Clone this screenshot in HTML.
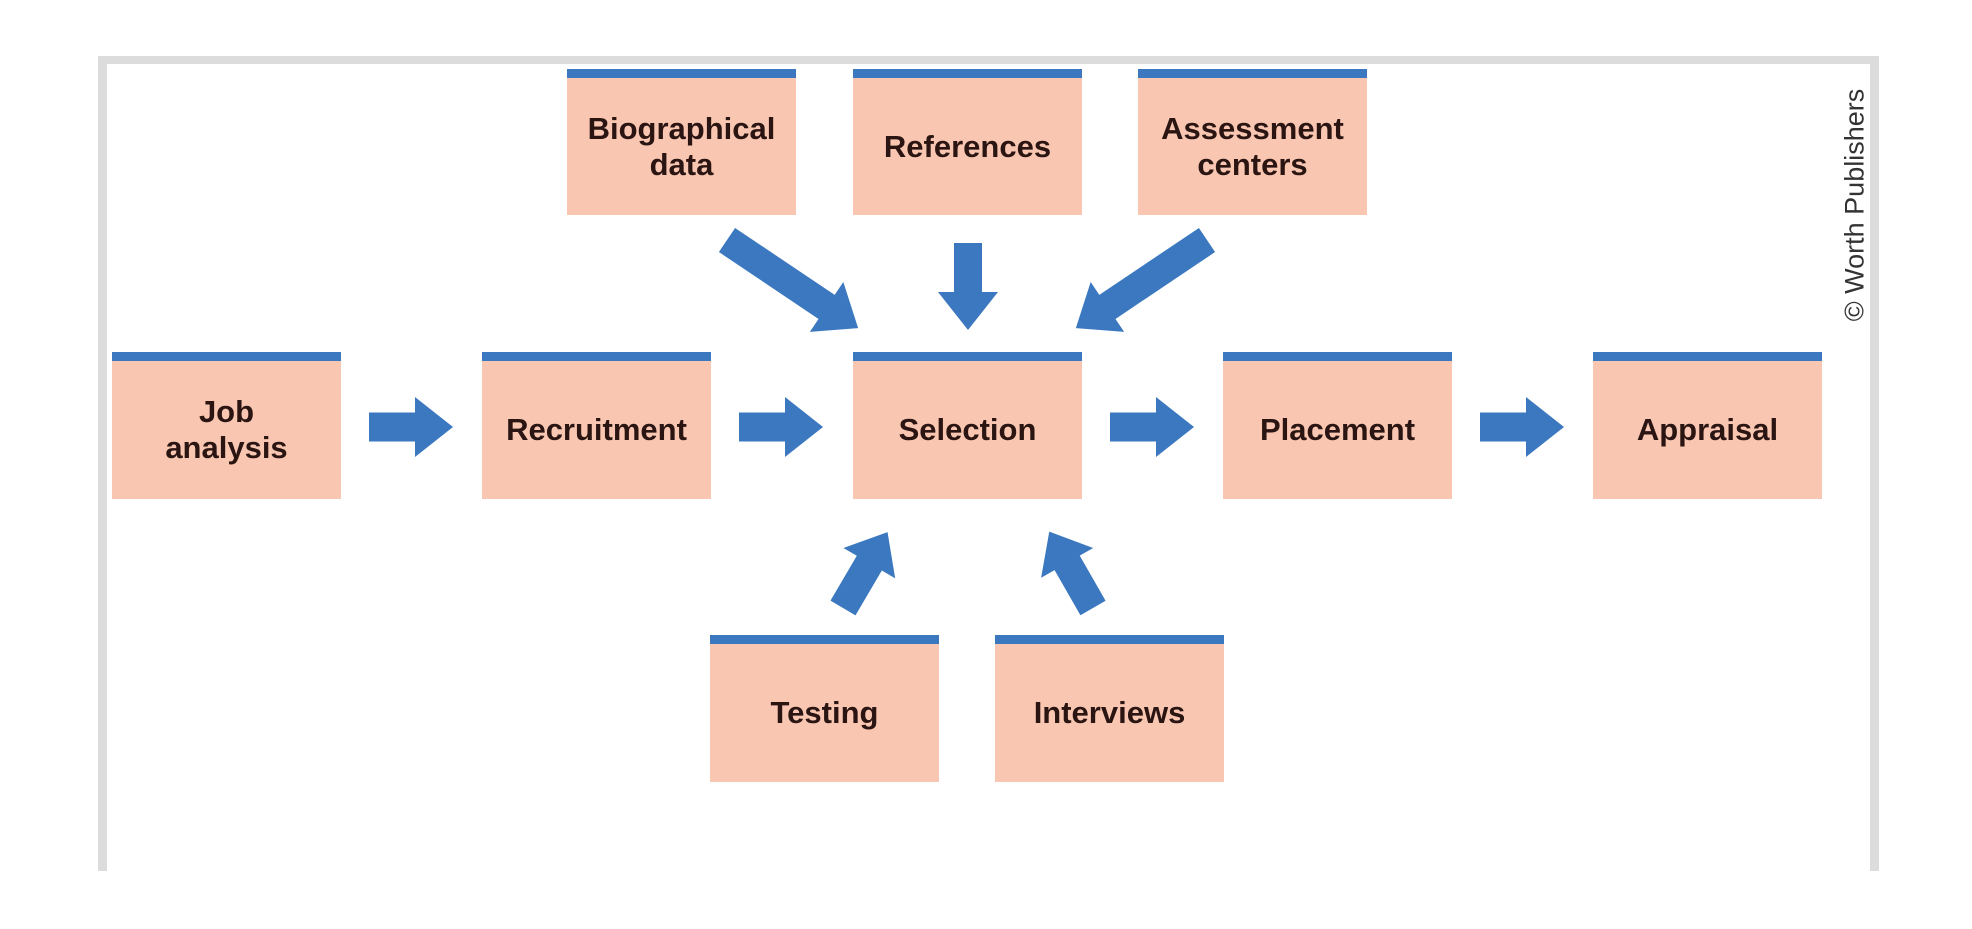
<!DOCTYPE html>
<html><head><meta charset="utf-8"><style>
html,body{margin:0;padding:0;background:#fff;width:1972px;height:929px;overflow:hidden;position:relative;font-family:"Liberation Sans",sans-serif}
.fr{position:absolute;background:#dcdcdc}
.b{position:absolute;background:#f9c6b1;border-top:9px solid #3b78c0;box-sizing:border-box;display:flex;align-items:center;justify-content:center;text-align:center;font-weight:bold;font-size:31px;line-height:36px;color:#2a1512}
.cp{position:absolute;left:1855px;top:205px;transform:translate(-50%,-50%) rotate(-90deg);font-size:27px;color:#333;white-space:nowrap}
</style></head><body>
<div class="fr" style="left:98px;top:56px;width:1780px;height:8px"></div>
<div class="fr" style="left:98px;top:56px;width:9px;height:815px"></div>
<div class="fr" style="left:1870px;top:56px;width:9px;height:815px"></div>

<div class="b" style="left:567px;top:69px;width:229px;height:146px">Biographical<br>data</div>
<div class="b" style="left:853px;top:69px;width:229px;height:146px">References</div>
<div class="b" style="left:1138px;top:69px;width:229px;height:146px">Assessment<br>centers</div>

<div class="b" style="left:112px;top:352px;width:229px;height:147px">Job<br>analysis</div>
<div class="b" style="left:482px;top:352px;width:229px;height:147px">Recruitment</div>
<div class="b" style="left:853px;top:352px;width:229px;height:147px">Selection</div>
<div class="b" style="left:1223px;top:352px;width:229px;height:147px">Placement</div>
<div class="b" style="left:1593px;top:352px;width:229px;height:147px">Appraisal</div>

<div class="b" style="left:710px;top:635px;width:229px;height:147px">Testing</div>
<div class="b" style="left:995px;top:635px;width:229px;height:147px">Interviews</div>

<div class="cp">© Worth Publishers</div>

<svg width="1972" height="929" style="position:absolute;left:0;top:0">
<defs>
<polygon id="a84" points="0,-14.5 46,-14.5 46,-30 84,0 46,30 46,14.5 0,14.5"/>
<polygon id="a158" points="0,-14.5 120,-14.5 120,-30 158,0 120,30 120,14.5 0,14.5"/>
<polygon id="a87" points="0,-14 49,-14 49,-30 87,0 49,30 49,14 0,14"/>
<polygon id="a88" points="0,-14.5 52,-14.5 52,-30 88,0 52,30 52,14.5 0,14.5"/>
</defs>
<g fill="#3b78c0">
<use href="#a84" transform="translate(369,427)"/>
<use href="#a84" transform="translate(739,427)"/>
<use href="#a84" transform="translate(1110,427)"/>
<use href="#a84" transform="translate(1480,427)"/>
<use href="#a87" transform="translate(968,243) rotate(90)"/>
<use href="#a158" transform="translate(727,240) rotate(33.9)"/>
<use href="#a158" transform="translate(1207,240) rotate(146.1)"/>
<use href="#a88" transform="translate(843,608) rotate(-59.6)"/>
<use href="#a88" transform="translate(1093,608) rotate(-119.8)"/>
</g>
</svg>
</body></html>
